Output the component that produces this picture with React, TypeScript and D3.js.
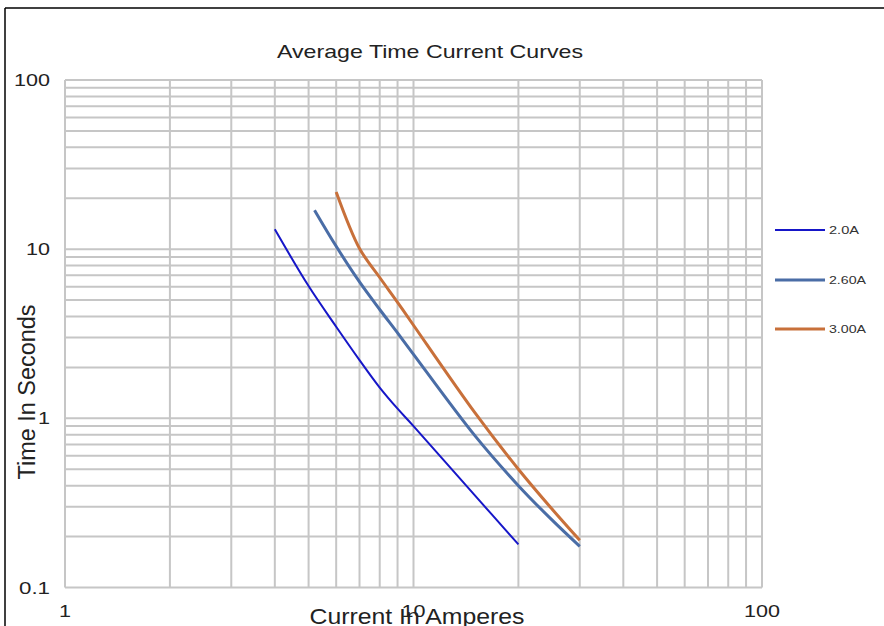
import { useEffect, useRef } from "react";
import * as d3 from "d3";

// curve data (current in A, time in s)
const amps20 = [4, 5, 6, 7, 8, 9, 10, 15, 20];
const secs20 = [13.1, 6.05, 3.48, 2.21, 1.52, 1.14, 0.9, 0.35, 0.18];

const amps260 = [5.2, 6, 7, 8, 9, 10, 15, 20, 25, 30];
const secs260 = [17, 10.4, 6.4, 4.4, 3.2, 2.39, 0.79, 0.4, 0.25, 0.175];

const amps300 = [6, 7, 8, 9, 10, 15, 20, 25, 30];
const secs300 = [21.8, 10.1, 6.8, 4.85, 3.55, 1.08, 0.5, 0.29, 0.19];

const seriesNames = ["2.0A", "2.60A", "3.00A"];
const xTickLabels = [1, 10, 100];
const yTickLabels = [0.1, 1, 10, 100];

const FONT = "'Liberation Sans', Arial, sans-serif";

export default function App() {
    const svgRef = useRef(null);

    useEffect(() => {
        const width = 884;
        const height = 626;
        const plot = { left: 65, right: 762, top: 80, bottom: 587.5 };

        const svg = d3.select(svgRef.current)
            .attr("width", width)
            .attr("height", height);

        svg.selectAll("*").remove();

        const x = d3.scaleLog().domain([1, 100]).range([plot.left, plot.right]);
        const y = d3.scaleLog().domain([0.1, 100]).range([plot.bottom, plot.top]);

        // frame of the chart area
        svg.append("line").attr("x1", 5).attr("x2", width).attr("y1", 8).attr("y2", 8)
            .attr("stroke", "#000").attr("stroke-width", 1.5);
        svg.append("line").attr("x1", 5).attr("x2", 5).attr("y1", 8).attr("y2", height)
            .attr("stroke", "#000").attr("stroke-width", 1.5);

        // log grid, every minor step
        const grid = svg.append("g").attr("stroke", "#c6c6c6").attr("stroke-width", 2);
        grid.selectAll(".vx")
            .data(x.ticks(10))
            .join("line")
            .attr("x1", d => x(d)).attr("x2", d => x(d))
            .attr("y1", plot.top).attr("y2", plot.bottom);
        grid.selectAll(".hy")
            .data(y.ticks(10))
            .join("line")
            .attr("x1", plot.left).attr("x2", plot.right)
            .attr("y1", d => y(d)).attr("y2", d => y(d));

        // tick labels
        const tickLen = { "100": 36, "10": 24, "1": 12, "0.1": 31 };
        svg.selectAll(".ylab")
            .data(yTickLabels)
            .join("text")
            .attr("x", 50)
            .attr("y", d => y(d))
            .attr("dy", "0.36em")
            .attr("text-anchor", "end")
            .attr("font-family", FONT)
            .attr("font-size", 17)
            .attr("fill", "#222")
            .attr("textLength", d => tickLen[String(d)])
            .attr("lengthAdjust", "spacingAndGlyphs")
            .text(d => String(d));
        svg.selectAll(".xlab")
            .data(xTickLabels)
            .join("text")
            .attr("x", d => x(d))
            .attr("y", 617)
            .attr("text-anchor", "middle")
            .attr("font-family", FONT)
            .attr("font-size", 17)
            .attr("fill", "#222")
            .attr("textLength", d => tickLen[String(d)])
            .attr("lengthAdjust", "spacingAndGlyphs")
            .text(d => String(d));

        // titles
        svg.append("text")
            .attr("x", 430).attr("y", 58)
            .attr("text-anchor", "middle")
            .attr("font-family", FONT).attr("font-size", 19).attr("fill", "#222")
            .attr("textLength", 306).attr("lengthAdjust", "spacingAndGlyphs")
            .text("Average Time Current  Curves");
        svg.append("text")
            .attr("transform", "translate(35,392) rotate(-90)")
            .attr("text-anchor", "middle")
            .attr("font-family", FONT).attr("font-size", 23).attr("fill", "#222")
            .attr("textLength", 175).attr("lengthAdjust", "spacingAndGlyphs")
            .text("Time In Seconds");
        svg.append("text")
            .attr("x", 417).attr("y", 624)
            .attr("text-anchor", "middle")
            .attr("font-family", FONT).attr("font-size", 22).attr("fill", "#222")
            .attr("textLength", 215).attr("lengthAdjust", "spacingAndGlyphs")
            .text("Current In Amperes");

        // curves
        const series = [
            { name: seriesNames[0], xs: amps20, ys: secs20, color: "#1616c8", w: 2 },
            { name: seriesNames[1], xs: amps260, ys: secs260, color: "#4a6da6", w: 3 },
            { name: seriesNames[2], xs: amps300, ys: secs300, color: "#c8703a", w: 3 },
        ];
        const line = d3.line()
            .x(d => x(d[0]))
            .y(d => y(d[1]))
            .curve(d3.curveCatmullRom.alpha(0.5));

        svg.selectAll(".curve")
            .data(series)
            .join("path")
            .attr("d", s => line(s.xs.map((v, i) => [v, s.ys[i]])))
            .attr("fill", "none")
            .attr("stroke", s => s.color)
            .attr("stroke-width", s => s.w)
            .attr("stroke-linejoin", "round");

        // legend
        const legendY = [230, 280, 329];
        const legendLen = [30, 37, 37];
        const lg = svg.append("g");
        series.forEach((s, i) => {
            lg.append("line")
                .attr("x1", 775).attr("x2", 825)
                .attr("y1", legendY[i]).attr("y2", legendY[i])
                .attr("stroke", s.color).attr("stroke-width", s.w);
            lg.append("text")
                .attr("x", 829).attr("y", legendY[i]).attr("dy", "0.35em")
                .attr("font-family", FONT).attr("font-size", 11).attr("fill", "#333")
                .attr("textLength", legendLen[i]).attr("lengthAdjust", "spacingAndGlyphs")
                .text(s.name);
        });
    }, []);

    return (
        <svg ref={svgRef} style={{ position: "absolute", left: 0, top: 0, display: "block" }} />
    );
}
